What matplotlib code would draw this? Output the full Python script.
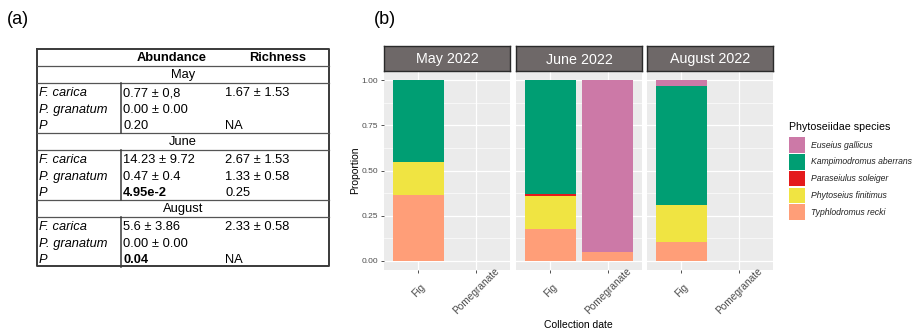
import matplotlib
matplotlib.use('Agg')
from matplotlib import pyplot as plt
from matplotlib.patches import Rectangle
import numpy as np

plt.rcParams['font.family'] = ['Liberation Sans', 'DejaVu Sans']

# ---- table (a) ----
months_tab = ['May', 'June', 'August']
row_names = ['F. carica', 'P. granatum', 'P']
abundance = [['0.77 ± 0,8', '0.00 ± 0.00', '0.20'],
             ['14.23 ± 9.72', '0.47 ± 0.4', '4.95e-2'],
             ['5.6 ± 3.86', '0.00 ± 0.00', '0.04']]
richness = [['1.67 ± 1.53', '', 'NA'],
            ['2.67 ± 1.53', '1.33 ± 0.58', '0.25'],
            ['2.33 ± 0.58', '', 'NA']]
significant = [False, True, True]

# ---- stacked bars (b) ----
months = ['May 2022', 'June 2022', 'August 2022']
hosts = ['Fig', 'Pomegranate']
species = ['Euseius gallicus', 'Kampimodromus aberrans', 'Paraseiulus soleiger',
           'Phytoseius finitimus', 'Typhlodromus recki']
colors = ['#CC79A7', '#009E73', '#E41A1C', '#F0E442', '#FF9E78']
# proportions per month: [Fig, Pomegranate]
euseius = [[0.0, 0.0], [0.0, 0.952], [0.035, 0.0]]
kampimodromus = [[0.455, 0.0], [0.628, 0.0], [0.655, 0.0]]
paraseiulus = [[0.0, 0.0], [0.012, 0.0], [0.0, 0.0]]
phytoseius = [[0.182, 0.0], [0.185, 0.0], [0.207, 0.0]]
typhlodromus = [[0.364, 0.0], [0.175, 0.048], [0.103, 0.0]]
series = [euseius, kampimodromus, paraseiulus, phytoseius, typhlodromus]

W, H = 921, 332
fig = plt.figure(figsize=(W / 100, H / 100), dpi=100)

def frac(x0, y0, x1, y1):
    return [x0 / W, 1 - y1 / H, (x1 - x0) / W, (y1 - y0) / H]

# canvas in pixel units for the table, labels and legend
cv = fig.add_axes([0, 0, 1, 1])
cv.set_xlim(0, W)
cv.set_ylim(H, 0)
cv.axis('off')

cv.text(18, 20, '(a)', fontsize=13, ha='center', va='center')
cv.text(385, 20, '(b)', fontsize=13, ha='center', va='center')

tl, tr, tt, tb = 37, 329, 49, 266
fs = 9.3
cv.plot([tl, tr, tr, tl, tl], [tt, tt, tb, tb, tt], color='#3a3a3a', lw=1.4)
cv.text(172, 58, 'Abundance', fontsize=fs, fontweight='bold', ha='center', va='center')
cv.text(278, 58, 'Richness', fontsize=fs, fontweight='bold', ha='center', va='center')
cv.plot([tl, tr], [66, 66], color='#555555', lw=0.9)
block_top = 66
for m, name in enumerate(months_tab):
    cv.text((tl + tr) / 2, block_top + 9, name, fontsize=fs, ha='center', va='center')
    line_y = block_top + 17
    cv.plot([tl, tr], [line_y, line_y], color='#555555', lw=0.9)
    block_end = line_y + 50
    if m < 2:
        cv.plot([tl, tr], [block_end, block_end], color='#555555', lw=0.9)
    cv.plot([121, 121], [line_y, block_end], color='#3a3a3a', lw=1.1)
    for r in range(3):
        y = line_y + 10 + r * 16.7
        cv.text(39, y, row_names[r], fontsize=fs, style='italic', ha='left', va='center')
        bold = (r == 2 and significant[m])
        cv.text(123, y, abundance[m][r], fontsize=fs, ha='left', va='center',
                fontweight='bold' if bold else 'normal')
        cv.text(225, y, richness[m][r], fontsize=fs, ha='left', va='center')
    block_top = block_end

# facet panels
panel_x = [(384, 510), (516, 642), (647, 773)]
pt, pb = 71, 270
x = np.arange(1, len(hosts) + 1)
for m, (x0, x1) in enumerate(panel_x):
    ax = fig.add_axes(frac(x0, pt, x1, pb))
    ax.set_facecolor('#EBEBEB')
    for s in ax.spines.values():
        s.set_visible(False)
    ax.set_xlim(0.4, 2.6)
    ax.set_ylim(-0.05, 1.05)
    ax.set_yticks([0, 0.25, 0.5, 0.75, 1.0])
    ax.set_yticks([0.125, 0.375, 0.625, 0.875], minor=True)
    ax.set_xticks(x)
    ax.grid(True, which='major', color='white', lw=0.9)
    ax.grid(True, which='minor', axis='y', color='white', lw=0.45)
    ax.set_axisbelow(True)
    bottom = np.zeros(len(hosts))
    for vals, col in zip(series[::-1], colors[::-1]):
        v = np.array(vals[m])
        ax.bar(x, v, bottom=bottom, width=0.9, color=col, linewidth=0)
        bottom += v
    ax.tick_params(axis='both', which='major', length=2.5, width=0.6, color='#333333',
                   labelcolor='#4D4D4D', labelsize=6)
    ax.tick_params(axis='y', which='minor', length=0)
    ax.tick_params(axis='x', pad=12.5)
    ax.set_xticklabels(hosts, rotation=45, ha='center', va='center',
                       rotation_mode='anchor', fontsize=7.3)
    if m == 0:
        ax.set_yticklabels(['0.00', '0.25', '0.50', '0.75', '1.00'])
        ax.tick_params(axis='y', pad=1.5)
    else:
        ax.tick_params(axis='y', which='major', length=0, labelleft=False)

    st = fig.add_axes(frac(x0, 46, x1, pt))
    st.set_facecolor('#6E6868')
    st.set_xticks([])
    st.set_yticks([])
    for s in st.spines.values():
        s.set_color('#2a2a2a')
        s.set_linewidth(1.0)
    st.text(0.5, 0.3, months[m], color='white', fontsize=10.3,
            ha='center', va='baseline', transform=st.transAxes)

cv.text(355, 170, 'Proportion', fontsize=7.5, rotation=90, ha='center', va='center')
cv.text(578, 325, 'Collection date', fontsize=7.5, ha='center', va='center')

# legend
cv.text(789, 127, 'Phytoseiidae species', fontsize=7.7, ha='left', va='center')
for i, (name, col) in enumerate(zip(species, colors)):
    yc = 145 + i * 16.8
    cv.add_patch(Rectangle((789, yc - 7.8), 16, 15.6, facecolor=col, edgecolor='none'))
    cv.text(811, yc, name, fontsize=6.2, style='italic', ha='left', va='center', color='#222222')

fig.savefig('out.png', dpi=100)
